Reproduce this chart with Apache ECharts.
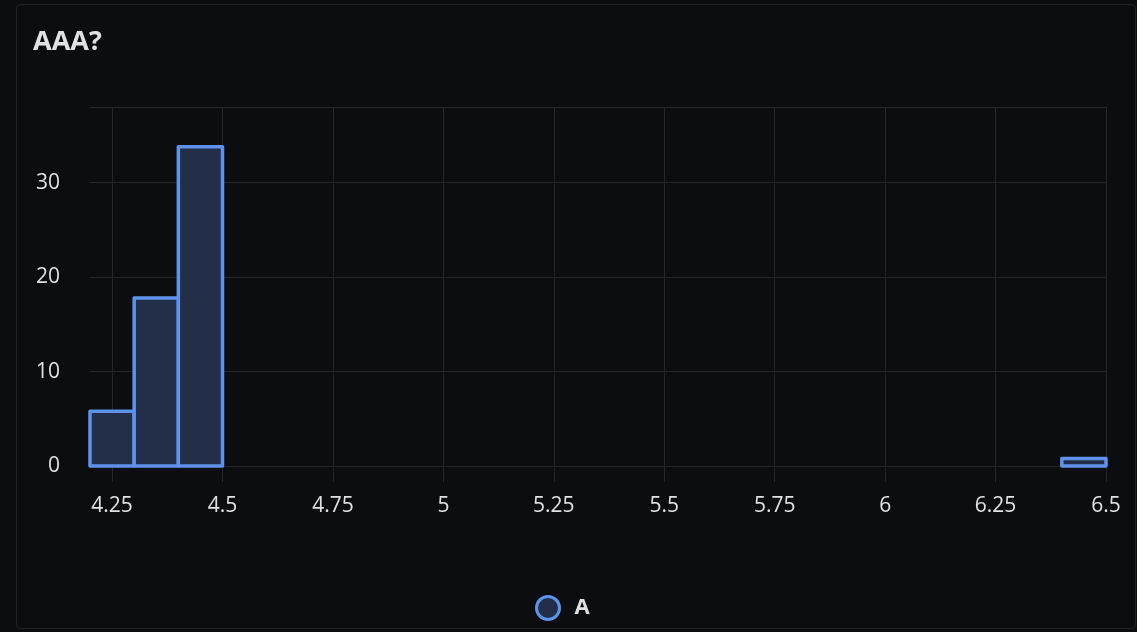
<!DOCTYPE html>
<html>
<head>
<meta charset="utf-8">
<script src="https://cdn.jsdelivr.net/npm/echarts@6/dist/echarts.min.js"></script>
<style>
html,body{margin:0;padding:0;background:#0c0d10;}
#c{width:1137px;height:632px;}
</style>
</head>
<body>
<div id="c"></div>
<script>
const titleText = "AAA?";
const seriesName = "A";
const binStart = [4.2, 4.3, 4.4, 6.4];
const binEnd = [4.3, 4.4, 4.5, 6.5];
const counts = [6, 18, 34, 1];
const xTicks = [4.25, 4.5, 4.75, 5, 5.25, 5.5, 5.75, 6, 6.25, 6.5];
const yTicks = [0, 10, 20, 30];

const blue = "#5f92ea";
const fill = "#232f48";
const gridColor = "#24262b";
const textColor = "#e0e1e4";

const data = binStart.map((s, i) => [s, binEnd[i], counts[i]]);

const chart = echarts.init(document.getElementById('c'), null, {renderer: 'canvas'});
chart.setOption({
  backgroundColor: "#0c0d10",
  animation: false,
  graphic: [{
    type: 'rect', silent: true, z: -1,
    shape: {x: 16.5, y: 4.5, width: 1119, height: 624, r: 4},
    style: {fill: "#0c0d10", stroke: "#202227", lineWidth: 1}
  }],
  title: {
    text: titleText, left: 28, top: 24,
    textStyle: {color: textColor, fontSize: 27, fontWeight: 'bold', fontFamily: 'Open Sans'}
  },
  legend: {
    data: [seriesName], top: 590, left: 530,
    icon: 'circle', itemWidth: 23, itemHeight: 23, itemGap: 10,
    textStyle: {color: textColor, fontSize: 22, fontWeight: 'bold', fontFamily: 'Open Sans', padding: [0,0,0,10]},
    itemStyle: {color: fill, borderColor: blue, borderWidth: 3}
  },
  grid: {left: 90, right: 31, top: 107, bottom: 166, containLabel: false},
  xAxis: {
    type: 'value', min: 4.2, max: 6.5,
    axisLine: {show: false},
    axisTick: {show: true, customValues: xTicks, length: 16, lineStyle: {color: gridColor}},
    axisLabel: {customValues: xTicks, color: textColor, fontSize: 21, fontFamily: 'Open Sans', margin: 30},
    splitLine: {show: true, lineStyle: {color: gridColor}}
  },
  yAxis: {
    type: 'value', min: 0, max: 38, interval: 10,
    axisLine: {show: false}, axisTick: {show: false},
    axisLabel: {customValues: yTicks, color: textColor, fontSize: 21, fontFamily: 'Open Sans', margin: 30},
    splitLine: {show: true, lineStyle: {color: gridColor}}
  },
  series: [{
    name: seriesName,
    type: 'custom',
    itemStyle: {color: fill, borderColor: blue, borderWidth: 3.5},
    renderItem: function (params, api) {
      const p0 = api.coord([api.value(0), api.value(2)]);
      const p1 = api.coord([api.value(1), 0]);
      return {
        type: 'rect',
        shape: {x: p0[0], y: p0[1] + 2, width: p1[0] - p0[0], height: p1[1] - p0[1] - 2},
        style: {fill: fill, stroke: blue, lineWidth: 3.5, lineJoin: 'round'}
      };
    },
    encode: {x: [0, 1], y: 2},
    data: data
  }]
});
</script>
</body>
</html>
